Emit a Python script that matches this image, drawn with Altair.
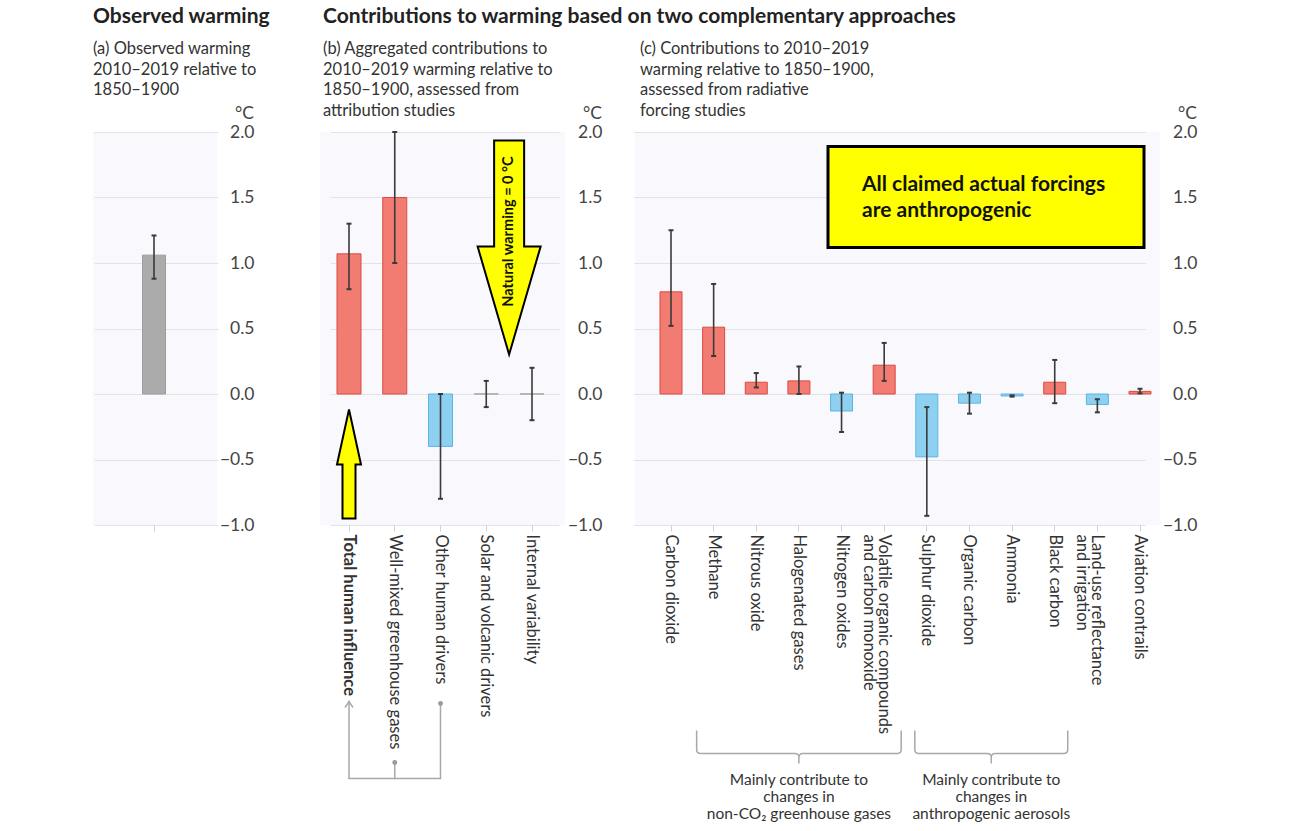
import altair as alt
import pandas as pd

# ---------------- values (°C, 2010-2019 relative to 1850-1900) ----------------
obs_cat = ["Observed warming"]
obs_val = [1.06]
obs_lo = [0.88]
obs_hi = [1.21]

attr_cat = [
    "Total human influence",
    "Well-mixed greenhouse gases",
    "Other human drivers",
    "Solar and volcanic drivers",
    "Internal variability",
]
attr_val = [1.07, 1.50, -0.40, 0.00, 0.00]
attr_lo = [0.80, 1.00, -0.80, -0.10, -0.20]
attr_hi = [1.30, 2.00, 0.00, 0.10, 0.20]

forc_cat = [
    "Carbon dioxide",
    "Methane",
    "Nitrous oxide",
    "Halogenated gases",
    "Nitrogen oxides",
    "Volatile organic compounds|and carbon monoxide",
    "Sulphur dioxide",
    "Organic carbon",
    "Ammonia",
    "Black carbon",
    "Land-use reflectance|and irrigation",
    "Aviation contrails",
]
forc_val = [0.78, 0.51, 0.09, 0.10, -0.13, 0.22, -0.48, -0.07, -0.015, 0.09, -0.08, 0.02]
forc_lo = [0.52, 0.29, 0.05, 0.00, -0.29, 0.10, -0.93, -0.15, -0.02, -0.07, -0.14, 0.005]
forc_hi = [1.25, 0.84, 0.16, 0.21, 0.01, 0.39, -0.10, 0.01, -0.01, 0.26, -0.04, 0.04]

y_ticks = [-1.0, -0.5, 0.0, 0.5, 1.0, 1.5, 2.0]

# ---------------- styling ----------------
FONT = "Lato"
TXT = "#222222"
SUB = "#333333"
AXL = "#444444"
BG = "#f8f8fd"
GRID = "#e2e2ea"
TICK = "#cfcfd8"
ERR = "#3a3a3a"
YELLOW = "#ffff00"
BRACKET = "#a8a8a8"

kind_domain = ["obs", "pos", "neg", "zero"]
fill_range = ["#ababab", "#f27b72", "#8dd0f0", "#bdbdbd"]
stroke_range = ["#9c9c9c", "#dc4b42", "#5cb5e3", "#a9a9a9"]

PLOT_H = 393
A_W, B_W, C_W = 124, 245, 525
GAP_AB, GAP_BC = 103, 70
LABEL_PAD = 37

HEAD_SIZE = 21
SUB_SIZE = 16.5
XLAB_SIZE = 16.5
YLAB_SIZE = 17.5

ONE = pd.DataFrame({"k": [0]})


def band_layout(n, first, last, bar, single_span=124):
    step = (last - first) / (n - 1) if n > 1 else single_span
    inner = 1 - bar / step
    return {
        "range": [first - step / 2, last + step / 2],
        "inner": inner,
        "outer": inner / 2,
        "centers": [first + i * step for i in range(n)],
    }


def frame(cats, vals, los, his, obs=False):
    kinds = []
    for v in vals:
        if obs:
            kinds.append("obs")
        elif v > 0:
            kinds.append("pos")
        elif v < 0:
            kinds.append("neg")
        else:
            kinds.append("zero")
    return pd.DataFrame({"cat": cats, "val": vals, "lo": los, "hi": his, "kind": kinds})


def txt(x, y, text, size, weight="normal", align="left", baseline="alphabetic",
        color=SUB, angle=0, lh=None):
    kw = dict(text=text, fontSize=size, fontWeight=weight, align=align,
              baseline=baseline, color=color, font=FONT)
    if angle:
        kw["angle"] = angle
    if lh:
        kw["lineHeight"] = lh
    return alt.Chart(ONE).mark_text(**kw).encode(x=alt.value(x), y=alt.value(y))


def seg(x1, y1, x2, y2, color=BRACKET, width=1.5):
    return alt.Chart(ONE).mark_rule(color=color, strokeWidth=width, strokeCap="round").encode(
        x=alt.value(x1), x2=alt.value(x2), y=alt.value(y1), y2=alt.value(y2)
    )


def glyph(x, y, path, fill=None, stroke="#000000", width=2.0):
    # size=4 makes one path unit equal to one pixel
    kw = dict(shape=path, size=4, opacity=1, stroke=stroke, strokeWidth=width,
              strokeJoin="miter")
    if fill:
        kw.update(filled=True, fill=fill)
    else:
        kw.update(filled=False)
    return alt.Chart(ONE).mark_point(**kw).encode(x=alt.value(x), y=alt.value(y))


def dot(x, y, color="#9a9a9a"):
    return alt.Chart(ONE).mark_point(shape="circle", size=24, filled=True, opacity=1,
                                     color=color).encode(x=alt.value(x), y=alt.value(y))


def panel(df, cats, layout, width, labels=True, extras=()):
    xscale = alt.Scale(domain=cats, range=layout["range"],
                       paddingInner=layout["inner"], paddingOuter=layout["outer"])
    if labels:
        xaxis = alt.Axis(
            labelAngle=90, labelAlign="left", labelBaseline="middle",
            labelFontSize=XLAB_SIZE, labelColor=SUB, labelPadding=3, labelLimit=400,
            labelOverlap=False, labelExpr="split(datum.label, '|')", labelLineHeight=15.5,
            labelFontWeight={"condition": {"test": "datum.value == 'Total human influence'",
                                           "value": "bold"}, "value": "normal"},
            ticks=True, tickSize=6, tickColor=TICK, domain=False, grid=False, title=None,
        )
    else:
        xaxis = alt.Axis(labels=False, ticks=True, tickSize=6, tickColor=TICK,
                         domain=False, grid=False, title=None)
    yscale = alt.Scale(domain=[-1, 2], nice=False)
    yaxis = alt.Axis(orient="right", values=y_ticks, format=".1f", labelFontSize=YLAB_SIZE,
                     labelColor=AXL, labelAlign="right", labelPadding=LABEL_PAD,
                     ticks=False, domain=False, grid=True, gridColor=GRID, gridWidth=1,
                     title=None)

    bars = alt.Chart(df).mark_bar(strokeWidth=1, opacity=1).encode(
        x=alt.X("cat:N", scale=xscale, axis=xaxis),
        y=alt.Y("val:Q", scale=yscale, axis=yaxis),
        fill=alt.Fill("kind:N", scale=alt.Scale(domain=kind_domain, range=fill_range), legend=None),
        stroke=alt.Stroke("kind:N", scale=alt.Scale(domain=kind_domain, range=stroke_range), legend=None),
    )
    zero = alt.Chart(df).transform_filter("datum.val == 0").mark_tick(
        color="#b3b3b3", size=24, thickness=1.2, opacity=1
    ).encode(x=alt.X("cat:N", axis=xaxis), y=alt.Y("val:Q", axis=yaxis))
    whisk = alt.Chart(df).mark_rule(color=ERR, strokeWidth=1.6).encode(
        x=alt.X("cat:N", axis=xaxis), y=alt.Y("lo:Q", axis=yaxis), y2="hi:Q"
    )
    caps = alt.Chart(df).transform_fold(["lo", "hi"], as_=["end", "v"]).mark_tick(
        color=ERR, size=5, thickness=2, opacity=1
    ).encode(x=alt.X("cat:N", axis=xaxis), y=alt.Y("v:Q", axis=yaxis))

    return alt.layer(bars, zero, whisk, caps, *extras).properties(
        width=width, height=PLOT_H, view=alt.ViewBackground(fill=BG, strokeWidth=0)
    )


def spacer(w):
    return alt.Chart(ONE).mark_point(opacity=0).encode(
        x=alt.value(0), y=alt.value(0)
    ).properties(width=w, height=PLOT_H)


HEAD_Y = -109.5   # baseline of the headings
SUB_Y = -78.2     # baseline of the first subtitle line
SUB_LH = 20.8
UNIT_Y = -18.5

# ---------------- panel (a) ----------------
lay_a = band_layout(1, 61, 61, 23)
extras_a = [
    txt(0, HEAD_Y, "Observed warming", HEAD_SIZE, "bold", color=TXT),
    txt(0, SUB_Y, ["(a) Observed warming", "2010–2019 relative to", "1850–1900"], SUB_SIZE, lh=SUB_LH),
    txt(A_W + LABEL_PAD, UNIT_Y, "°C", YLAB_SIZE, align="right", baseline="middle", color=AXL),
]
pa = panel(frame(obs_cat, obs_val, obs_lo, obs_hi, obs=True), obs_cat, lay_a, A_W,
           labels=False, extras=extras_a)

# ---------------- panel (b) ----------------
lay_b = band_layout(len(attr_cat), 29, 212, 24)
cb = lay_b["centers"]
nat_x = (cb[3] + cb[4]) / 2
br_y = 646.5
up_arrow = "M0,0L12,55L6.5,55L6.5,109L-6.5,109L-6.5,55L-12,55Z"
down_arrow = "M0,0L-31.5,-108L-15,-108L-15,-214L15,-214L15,-108L31.5,-108Z"
extras_b = [
    txt(3, HEAD_Y, "Contributions to warming based on two complementary approaches", HEAD_SIZE,
        "bold", color=TXT),
    txt(3, SUB_Y, ["(b) Aggregated contributions to", "2010–2019 warming relative to",
                   "1850–1900, assessed from", "attribution studies"], SUB_SIZE, lh=SUB_LH),
    txt(B_W + LABEL_PAD, UNIT_Y, "°C", YLAB_SIZE, align="right", baseline="middle", color=AXL),
    glyph(cb[0], 277.5, up_arrow, fill=YELLOW),
    glyph(nat_x, 222.5, down_arrow, fill=YELLOW),
    txt(nat_x, 99.5, "Natural warming = 0 °C", 14.5, "bold", align="center", baseline="middle",
        color="#111111", angle=270),
    # links from the two human components to the total
    seg(cb[0], 569.5, cb[0], br_y),
    seg(cb[0], br_y, cb[2], br_y),
    seg(cb[1], 630.5, cb[1], br_y),
    seg(cb[2], 571.5, cb[2], br_y),
    glyph(cb[0], 569.5, "M-4,6L0,0L4,6", stroke=BRACKET, width=1.5),
    dot(cb[1], 630.5),
    dot(cb[2], 571.5),
]
pb = panel(frame(attr_cat, attr_val, attr_lo, attr_hi), attr_cat, lay_b, B_W, extras=extras_b)

# ---------------- panel (c) ----------------
lay_c = band_layout(len(forc_cat), 36, 505, 22)
cc = lay_c["centers"]


def brace(x1, x2, y):
    w = (x2 - x1) / 2
    path = (f"M{-w},-23L{-w},-4Q{-w},0 {-w + 4},0L-4,0Q0,0 0,4L0,10"
            f"M0,4Q0,0 4,0L{w - 4},0Q{w},0 {w},-4L{w},-23")
    return glyph((x1 + x2) / 2, y, path, stroke=BRACKET, width=1.5)


g1 = (cc[1] - 17, cc[5] + 17)
g2 = (cc[6] - 12, cc[9] + 13)
extras_c = [
    txt(5, SUB_Y, ["(c) Contributions to 2010–2019", "warming relative to 1850–1900,",
                   "assessed from radiative", "forcing studies"], SUB_SIZE, lh=SUB_LH),
    txt(C_W + LABEL_PAD, UNIT_Y, "°C", YLAB_SIZE, align="right", baseline="middle", color=AXL),
    alt.Chart(ONE).mark_rect(fill=YELLOW, stroke="#000000", strokeWidth=3).encode(
        x=alt.value(193), x2=alt.value(509), y=alt.value(14.5), y2=alt.value(115.5)
    ),
    txt(227, 58.5, ["All claimed actual forcings", "are anthropogenic"], 21, "bold",
        color="#111111", lh=26),
    brace(g1[0], g1[1], 621.5),
    brace(g2[0], g2[1], 621.5),
    txt(sum(g1) / 2, 652.5, ["Mainly contribute to", "changes in", "non-CO₂ greenhouse gases"], 15.5,
        align="center", lh=17),
    txt(sum(g2) / 2, 652.5, ["Mainly contribute to", "changes in", "anthropogenic aerosols"], 15.5,
        align="center", lh=17),
]
pc = panel(frame(forc_cat, forc_val, forc_lo, forc_hi), forc_cat, lay_c, C_W, extras=extras_c)

chart = alt.hconcat(pa, spacer(GAP_AB), pb, spacer(GAP_BC), pc, spacing=0, bounds="flush").properties(
    padding={"left": 93, "top": 5, "right": 6, "bottom": 6}
).configure(font=FONT).configure_view(strokeWidth=0)

chart.save("out.html", embed_options={"renderer": "svg", "actions": False})
